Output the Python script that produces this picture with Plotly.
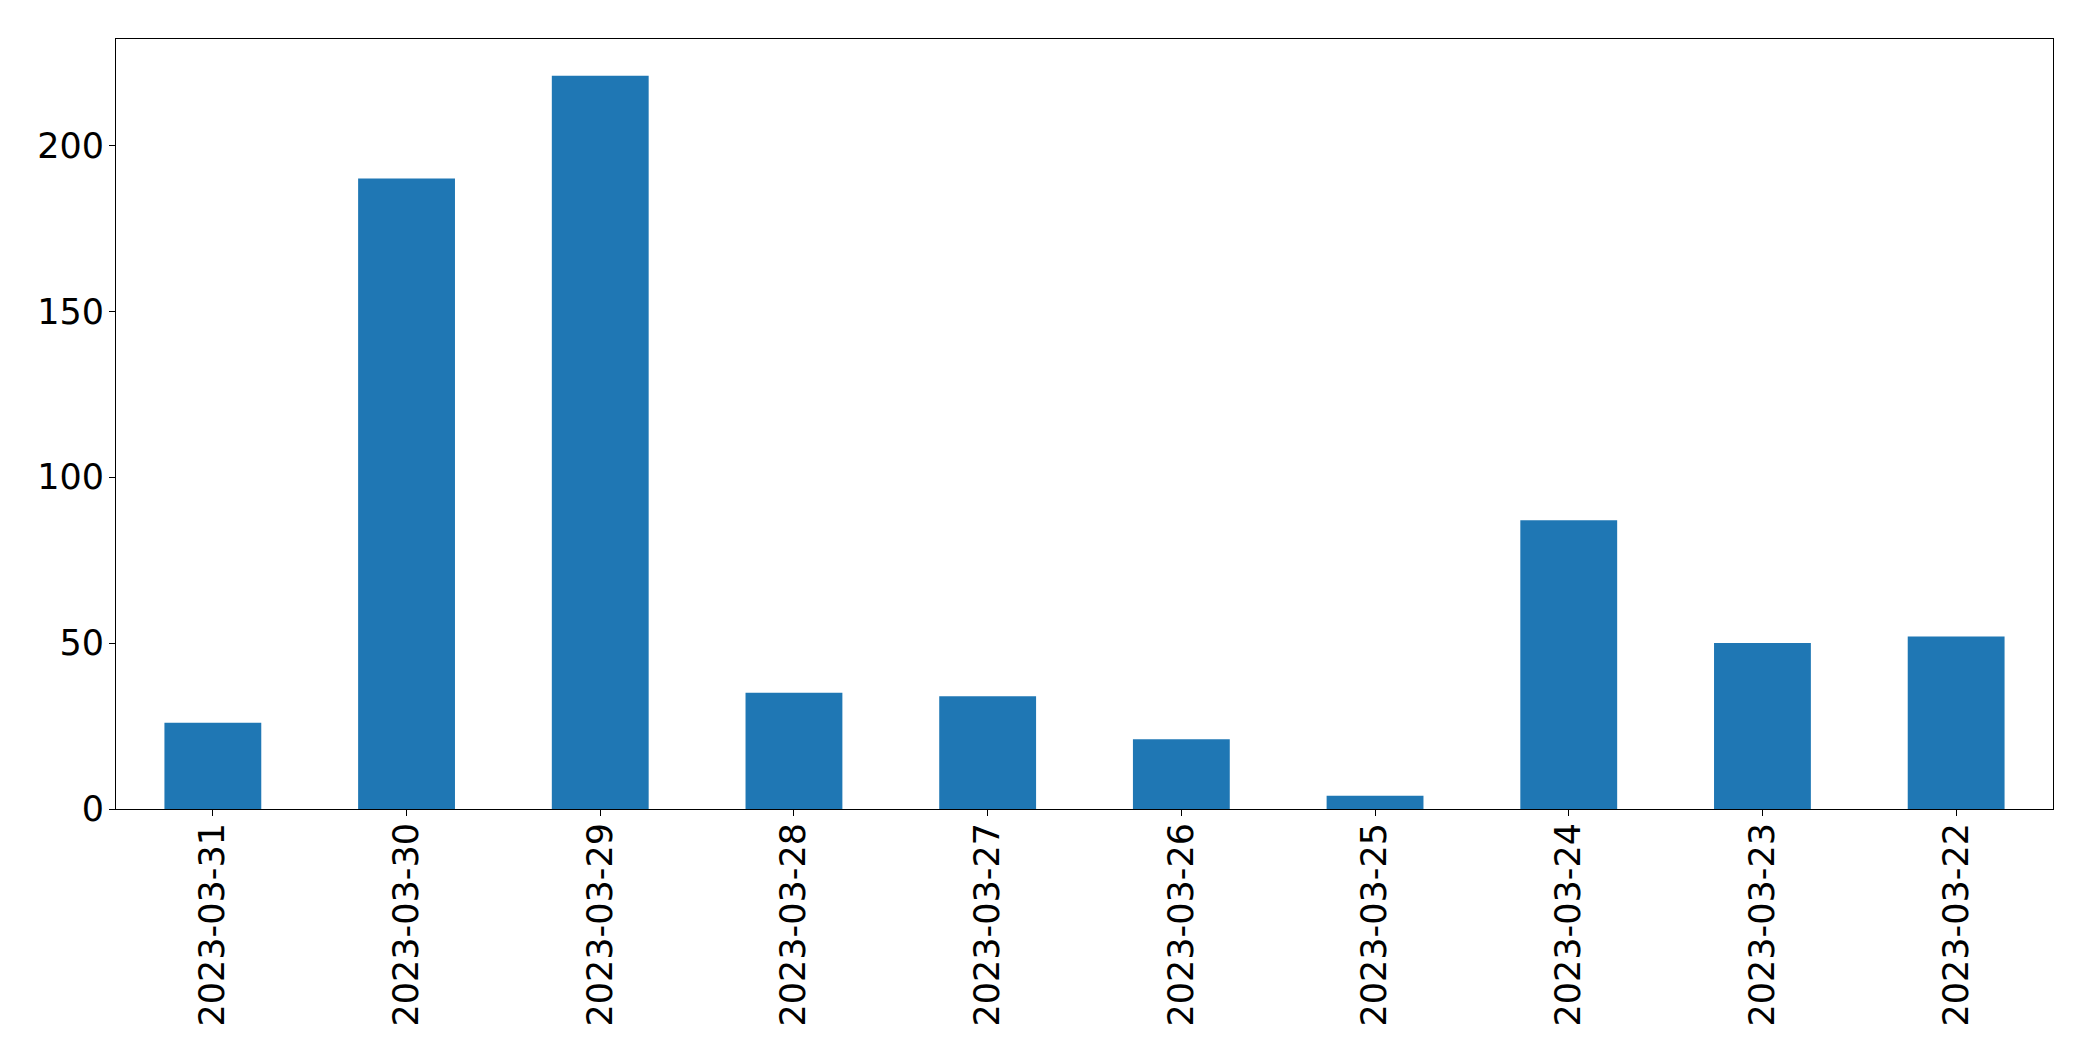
import plotly.graph_objects as go

dates = ["2023-03-31", "2023-03-30", "2023-03-29", "2023-03-28", "2023-03-27",
         "2023-03-26", "2023-03-25", "2023-03-24", "2023-03-23", "2023-03-22"]
counts = [26, 190, 221, 35, 34, 21, 4, 87, 50, 52]
y_ticks = [0, 50, 100, 150, 200]

fig = go.Figure(go.Bar(x=dates, y=counts, marker=dict(color="#1f77b4", line=dict(width=0))))

# page body has an 8px default margin, so compensate
fig.update_layout(
    width=2077, height=1045,
    margin=dict(l=108, r=32, t=31, b=244),
    paper_bgcolor="white", plot_bgcolor="white",
    bargap=0.5,
    showlegend=False,
    font=dict(family="DejaVu Sans", size=35, color="black"),
)
fig.update_xaxes(
    type="category", tickangle=-90,
    showline=True, linecolor="black", linewidth=1.1, mirror=True,
    ticks="outside", ticklen=6, tickwidth=1.1, tickcolor="black",
    showgrid=False, zeroline=False, ticklabelstandoff=-7,
    range=[-0.5, len(dates) - 0.5],
)
fig.update_yaxes(
    range=[0, max(counts) * 1.05], tickvals=y_ticks,
    showline=True, linecolor="black", linewidth=1.1, mirror=True,
    ticks="outside", ticklen=6, tickwidth=1.1, tickcolor="black",
    showgrid=False, zeroline=False, ticklabelstandoff=-2,
)

fig.write_html("out.html")
